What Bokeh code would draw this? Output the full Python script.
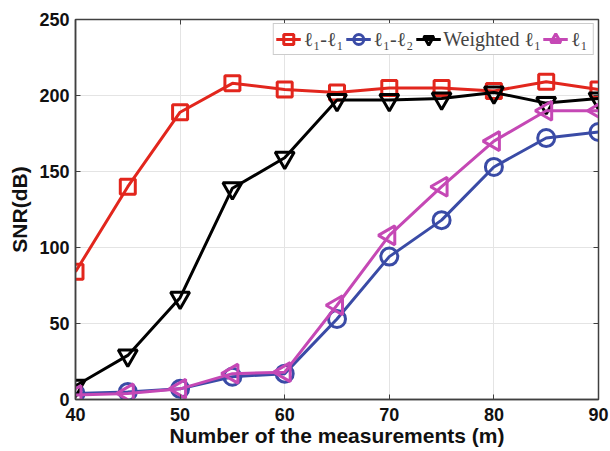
import math
from bokeh.plotting import figure
from bokeh.models import (Legend, LegendItem, LinearAxis, Range1d, FixedTicker,
                          CustomLabelingPolicy)
from bokeh.embed import file_html
from bokeh.resources import INLINE

m = [40, 45, 50, 55, 60, 65, 70, 75, 80, 85, 90]
snr_l1l1 = [84, 140, 189, 208, 204, 202, 205, 205, 203, 209, 204]
snr_l1l2 = [4, 5, 7, 15, 17, 53, 94, 118, 153, 172, 176]
snr_weighted = [9, 29, 67, 139, 159, 197, 197, 198, 202, 195, 198]
snr_l1 = [3, 4, 7, 17, 18, 62, 108, 140, 170, 190, 190]

labels = ["ℓ₁-ℓ₁", "ℓ₁-ℓ₂", "Weighted ℓ₁", "ℓ₁"]
colors = ["#e2261d", "#3a4ba6", "#000000", "#c548b5"]
x_ticks = [40, 50, 60, 70, 80, 90]
y_ticks = [0, 50, 100, 150, 200, 250]

p = figure(width=610, height=451, output_backend="svg", toolbar_location=None,
           x_range=Range1d(40, 90), y_range=Range1d(0, 250),
           min_border_left=75, min_border_right=12, min_border_top=19, min_border_bottom=52)
p.background_fill_color = "white"
p.border_fill_color = "white"
p.outline_line_color = "#404040"
p.outline_line_width = 1.5

font = "Liberation Sans"
for ax in (p.xaxis[0], p.yaxis[0]):
    ax.major_label_text_font = font
    ax.major_label_text_font_style = "bold"
    ax.major_label_text_font_size = "18px"
    ax.major_label_text_color = "#111111"
    ax.axis_label_text_font = font
    ax.axis_label_text_font_style = "bold"
    ax.axis_label_text_font_size = "21px"
    ax.axis_label_text_color = "#111111"
    ax.major_tick_in = 5
    ax.major_tick_out = 0
    ax.minor_tick_line_color = None
    ax.axis_line_color = "#404040"
    ax.major_tick_line_color = "#404040"
    ax.axis_line_width = 1.5

p.xaxis.ticker = FixedTicker(ticks=x_ticks)
p.yaxis.ticker = FixedTicker(ticks=y_ticks)
p.xaxis.axis_label = "Number of the measurements (m)"
p.yaxis.axis_label = "SNR(dB)"
p.xaxis.major_label_standoff = 8
p.yaxis.major_label_standoff = 6
p.xaxis.axis_label_standoff = 0
p.yaxis.axis_label_standoff = 5

no_labels = CustomLabelingPolicy(code="return new Set()")
for loc, tk in (("right", y_ticks), ("above", x_ticks)):
    ax = LinearAxis(ticker=FixedTicker(ticks=tk), major_label_policy=no_labels)
    ax.major_label_text_font_size = "1px"
    ax.major_label_standoff = 0
    ax.major_tick_in = 5
    ax.major_tick_out = 0
    ax.minor_tick_line_color = None
    ax.axis_line_color = "#404040"
    ax.major_tick_line_color = "#404040"
    p.add_layout(ax, loc)

p.xgrid.ticker = FixedTicker(ticks=x_ticks)
p.ygrid.ticker = FixedTicker(ticks=y_ticks)
p.grid.grid_line_color = "#e4e4e4"
p.grid.grid_line_width = 1

series = [snr_l1l1, snr_l1l2, snr_weighted, snr_l1]
markers = ["square", "circle", "inverted_triangle", "triangle"]
sizes = [15, 17, 19, 19]
angles = [0, 0, 0, math.pi / 2]
items = []
for lab, col, ys, mk, sz, ang in zip(labels, colors, series, markers, sizes, angles):
    r1 = p.line(m, ys, line_color=col, line_width=3)
    r2 = p.scatter(m, ys, marker=mk, size=sz, angle=ang, line_color=col,
                   fill_color=None, line_width=3)
    items.append(LegendItem(label=lab, renderers=[r1, r2]))

legend = Legend(items=items, orientation="horizontal", location="top_right")
legend.label_text_font = "Liberation Serif"
legend.label_text_font_size = "20px"
legend.label_standoff = 3
legend.label_height = 22
legend.glyph_width = 25
legend.glyph_height = 26
legend.spacing = 2
legend.padding = 2
legend.margin = 4
legend.border_line_color = "#999999"
legend.border_line_width = 1
legend.background_fill_alpha = 1
p.add_layout(legend)

open("out.html", "w").write(file_html(p, INLINE))
